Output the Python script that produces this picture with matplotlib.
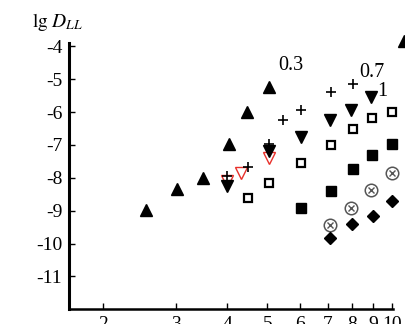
import matplotlib
matplotlib.use("Agg")
import matplotlib.pyplot as plt
from matplotlib.ticker import FixedLocator, NullLocator

plt.rcParams['font.family'] = ['Liberation Serif', 'DejaVu Serif']
plt.rcParams['mathtext.fontset'] = 'stix'
plt.rcParams['axes.unicode_minus'] = False

# --- data ---
tri_up_x = [2.54, 3.03, 3.50, 4.04, 4.47, 5.05, 10.67]
tri_up_y = [-8.98, -8.34, -7.99, -6.98, -6.01, -5.24, -3.85]

plus_x = [4.0, 4.48, 5.05, 5.46, 6.01, 7.10, 8.04]
plus_y = [-7.95, -7.68, -6.97, -6.23, -5.93, -5.39, -5.15]

tri_dn_x = [4.0, 5.05, 6.02, 7.06, 7.96, 8.89]
tri_dn_y = [-8.25, -7.17, -6.75, -6.23, -5.93, -5.53]

red_dn_x = [4.0, 4.31, 5.05]
red_dn_y = [-8.1, -7.84, -7.41]

sq_open_x = [4.49, 5.05, 6.04, 7.13, 8.03, 8.93, 9.98]
sq_open_y = [-8.62, -8.15, -7.54, -7.0, -6.52, -6.18, -5.99]

sq_fill_x = [6.04, 7.11, 8.05, 8.96, 9.99]
sq_fill_y = [-8.91, -8.40, -7.73, -7.31, -6.97]

otimes_x = [7.07, 7.95, 8.88, 10.0]
otimes_y = [-9.44, -8.93, -8.37, -7.85]

diam_x = [7.07, 8.01, 8.97, 10.0]
diam_y = [-9.82, -9.41, -9.16, -8.71]

xticks = [2, 3, 4, 5, 6, 7, 8, 9, 10]
yticks = [-4, -5, -6, -7, -8, -9, -10, -11]

curve_labels = ['0.3', '0.7', '1']
label_x = [5.70, 8.96, 9.47]
label_y = [-4.58, -4.80, -5.38]

fig = plt.figure(figsize=(4.06, 3.24), dpi=100)
ax = fig.add_axes([0.1707, 0.0454, 0.7973, 0.8216])

ax.set_xscale('log')
ax.set_xlim(1.661, 10.05)
ax.set_ylim(-12.0, -3.9)

kw = dict(linestyle='none', clip_on=False)
ax.plot(tri_up_x, tri_up_y, marker='^', ms=8.3, color='black', **kw)
ax.plot(red_dn_x, red_dn_y, marker='v', ms=8.5, mfc='white', mec='#e8302a', mew=1.0, **kw)
ax.plot(tri_dn_x, tri_dn_y, marker='v', ms=8.3, color='black', **kw)
ax.plot(plus_x, plus_y, marker='+', ms=7, mew=1.2, color='black', **kw)
ax.plot(sq_open_x, sq_open_y, marker='s', ms=6.3, mfc='white', mec='black', mew=1.6, **kw)
ax.plot(sq_fill_x, sq_fill_y, marker='s', ms=7, color='black', **kw)
ax.plot(otimes_x, otimes_y, marker='o', ms=9, mfc='white', mec='#555555', mew=1.1, **kw)
ax.plot(otimes_x, otimes_y, marker='x', ms=5, mew=1.0, color='#555555', **kw)
ax.plot(diam_x, diam_y, marker='D', ms=5.8, color='black', **kw)

for t, x, y in zip(curve_labels, label_x, label_y):
    ax.text(x, y, t, fontsize=14.5, ha='center', va='center')

ax.spines['top'].set_visible(False)
ax.spines['right'].set_visible(False)
ax.spines['left'].set_linewidth(2.2)
ax.spines['bottom'].set_linewidth(1.8)

ax.xaxis.set_major_locator(FixedLocator(xticks))
ax.xaxis.set_minor_locator(NullLocator())
ax.set_xticklabels([str(v) for v in xticks])
ax.yaxis.set_major_locator(FixedLocator(yticks))
ax.set_yticklabels([str(v) for v in yticks])
ax.tick_params(direction='in', length=4, width=1.0, labelsize=14, pad=5)

fig.text(0.078, 0.918, r'$\mathrm{lg}\ D_{LL}$', fontsize=14, ha='left', va='baseline')

fig.savefig('out.png', dpi=100)
